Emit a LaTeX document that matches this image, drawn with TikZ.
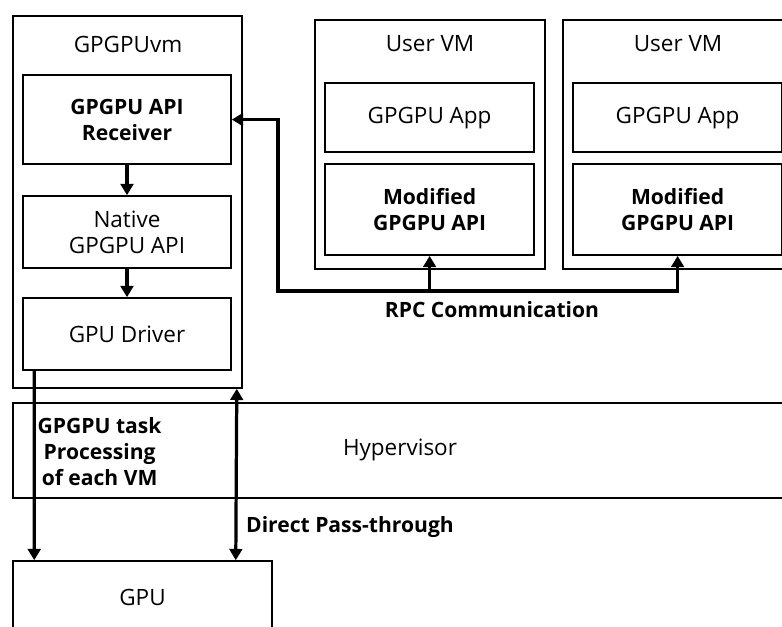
\documentclass[tikz,border=0pt]{standalone}
\usepackage{fontspec}
\setmainfont{Open Sans}
\usepackage{tikz}
\usetikzlibrary{arrows.meta,calc}

\begin{document}
\begin{tikzpicture}[
        >={Triangle[length=8pt,width=9pt]},
        every node/.style={font=\fontsize{16}{18.5}\selectfont},
        box/.style={draw, line width=1.1pt, inner sep=0pt, align=center},
        boldbox/.style={box, font=\fontsize{15}{18.5}\selectfont\bfseries},
        arr/.style={line width=2.3pt},
        lbl/.style={font=\fontsize{15}{18.5}\selectfont\bfseries, align=center}
    ]
        \useasboundingbox (0,0) rectangle (19.55,15.65);

        \node[box, minimum width=5.72cm, minimum height=9.3cm] (vm) at (3.19, 10.6) {};
        \node (vmname) at (3.2, 14.55) {GPGPUvm};
        \node[boldbox, minimum width=5.2cm, minimum height=2.225cm] (recv) at (3.175, 12.66) {GPGPU API\\Receiver};
        \node[box, minimum width=5.2cm, minimum height=1.8cm] (native) at (3.175, 9.85) {Native\\GPGPU API};
        \node[box, minimum width=5.2cm, minimum height=1.8cm] (driver) at (3.175, 7.3) {GPU Driver};

        \node[box, minimum width=5.75cm, minimum height=6.225cm] (uvmA) at (10.75, 12.04) {};
        \node (uvmAname) at (10.75, 14.55) {User VM};
        \node[box, minimum width=5.225cm, minimum height=1.725cm] (appA) at (10.74, 12.71) {GPGPU App};
        \node[boldbox, minimum width=5.225cm, minimum height=2.275cm] (apiA) at (10.74, 10.41) {Modified\\GPGPU API};

        \node[box, minimum width=5.75cm, minimum height=6.225cm] (uvmB) at (16.95, 12.04) {};
        \node (uvmBname) at (16.95, 14.55) {User VM};
        \node[box, minimum width=5.225cm, minimum height=1.725cm] (appB) at (16.94, 12.71) {GPGPU App};
        \node[boldbox, minimum width=5.225cm, minimum height=2.275cm] (apiB) at (16.94, 10.41) {Modified\\GPGPU API};

        \node[box, minimum width=19.35cm, minimum height=2.375cm] (hyp) at (10, 4.39) {Hypervisor};
        \node[box, minimum width=6.475cm, minimum height=1.8cm] (gpu) at (3.5625, 0.725) {GPU};

        \draw[arr, ->] (recv) -- (native);
        \draw[arr, ->] (native) -- (driver);

        \coordinate (rpcL) at (6.95, 8.375);
        \draw[arr, <->] (recv.east) -| (rpcL) -| (apiB.south);
        \draw[arr, ->] (apiA.south |- rpcL) -- (apiA.south);
        \node[lbl] (rpc) at (12.3, 7.9) {RPC Communication};

        \draw[arr, ->] ($(driver.south west)+(0.3,0)$) -- ($(gpu.north west)+(0.55,0)$);
        \draw[arr, <->] ($(vm.south east)+(-0.15,0)$) -- ($(gpu.north east)+(-0.925,0)$);

        \node[lbl] (task) at (2.49, 4.35) {GPGPU task\\Processing\\of each VM};
        \node[lbl] (pass) at (8.75, 2.475) {Direct Pass-through};
    \end{tikzpicture}
\end{document}
